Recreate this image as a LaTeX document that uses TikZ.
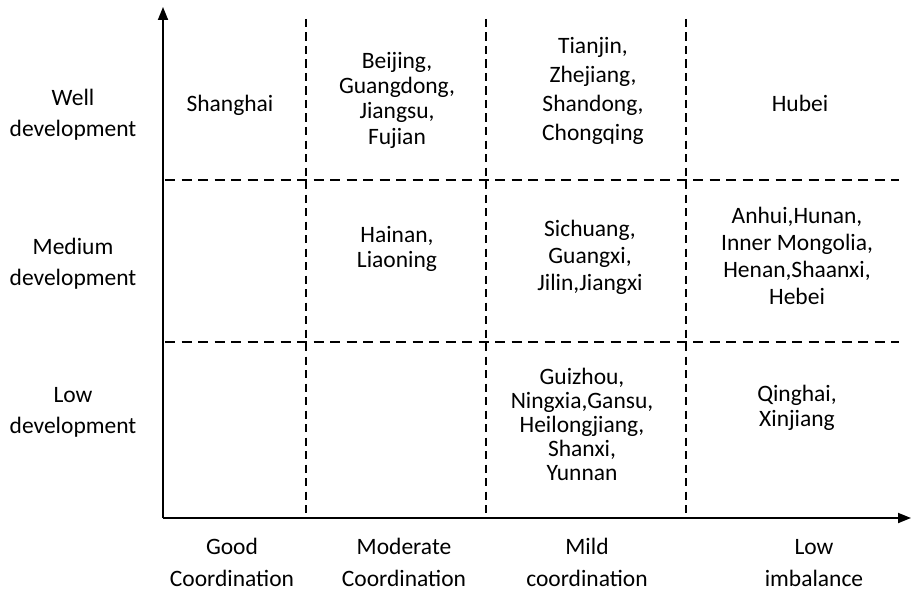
\documentclass[tikz,border=0pt]{standalone}
\usepackage{fontspec}
\setmainfont{Carlito}
\usetikzlibrary{arrows.meta}
\begin{document}
\begin{tikzpicture}[x=1pt,y=-1pt,
  axisline/.style={line width=1.8pt,-{Triangle[length=13pt,width=10pt]}},
  vgrid/.style={line width=1.3pt,dash pattern=on 8.3pt off 5.2pt},
  hgrid/.style={line width=1.8pt,dash pattern=on 10pt off 6.5pt},
  lbl/.style={align=center,inner sep=0pt,font=\fontsize{23.5}{#1}\selectfont,
    execute at begin node=\strut,execute at end node=\strut}]
\useasboundingbox (0,0) rectangle (912,599);
% axes
\coordinate (o) at (163,518);
\coordinate (ytop) at (163,7);
\coordinate (xend) at (911,518);
\draw[axisline] (o) -- (ytop);
\draw[axisline] (o) -- (xend);
% vertical dashed
\coordinate (v1t) at (306,19); \coordinate (v1b) at (306,518);
\coordinate (v2t) at (486,19); \coordinate (v2b) at (486,518);
\coordinate (v3t) at (686,19); \coordinate (v3b) at (686,518);
\draw[vgrid] (v1t) -- (v1b);
\draw[vgrid] (v2t) -- (v2b);
\draw[vgrid] (v3t) -- (v3b);
% horizontal dashed
\coordinate (h1l) at (165,180); \coordinate (h1r) at (899,180);
\coordinate (h2l) at (165,342); \coordinate (h2r) at (899,342);
\draw[hgrid] (h1l) -- (h1r);
\draw[hgrid] (h2l) -- (h2r);
% row labels
\node[lbl=31] (wd) at (73,117.3) {Well\\development};
\node[lbl=31] (md) at (73,266.3) {Medium\\development};
\node[lbl=31] (ld) at (73,414.8) {Low\\development};
% top row
\node[lbl=25] (sh) at (230,106) {Shanghai};
\node[lbl=25.3] (bj) at (397,102) {Beijing,\\Guangdong,\\Jiangsu,\\Fujian};
\node[lbl=29] (tj) at (593,93.2) {Tianjin,\\Zhejiang,\\Shandong,\\Chongqing};
\node[lbl=25] (hb) at (800,106) {Hubei};
% middle row
\node[lbl=25] (hn) at (397,250.5) {Hainan,\\Liaoning};
\node[lbl=27] (sc) at (590,259.6) {Sichuang,\\Guangxi,\\Jilin,Jiangxi};
\node[lbl=27] (ah) at (797,260.1) {Anhui,Hunan,\\Inner Mongolia,\\Henan,Shaanxi,\\Hebei};
% bottom row
\node[lbl=24] (gz) at (582,428.2) {Guizhou,\\Ningxia,Gansu,\\Heilongjiang,\\Shanxi,\\Yunnan};
\node[lbl=25] (qh) at (797,409.5) {Qinghai,\\Xinjiang};
% column labels
\node[lbl=32] (c1) at (232,567.6) {Good\\Coordination};
\node[lbl=32] (c2) at (404,567.6) {Moderate\\Coordination};
\node[lbl=32] (c3) at (587,567.6) {Mild\\coordination};
\node[lbl=32] (c4) at (814,567.6) {Low\\imbalance};
\end{tikzpicture}
\end{document}
